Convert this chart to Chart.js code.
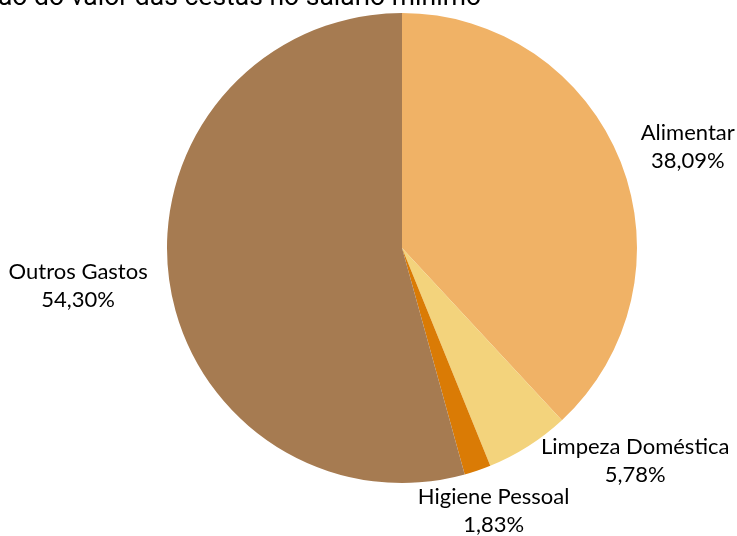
<!DOCTYPE html>
<html>
<head>
<meta charset="utf-8">
<script src="https://cdn.jsdelivr.net/npm/chart.js@4/dist/chart.umd.min.js"></script>
<style>
html,body{margin:0;padding:0;background:#fff;}
#wrap{width:737px;height:536px;position:relative;}
</style>
</head>
<body>
<div id="wrap"><canvas id="c" width="737" height="536"></canvas></div>
<script>
const categories = ['Alimentar', 'Limpeza Doméstica', 'Higiene Pessoal', 'Outros Gastos'];
const values = [38.09, 5.78, 1.83, 54.30];
const valueLabels = ['38,09%', '5,78%', '1,83%', '54,30%'];
const colors = ['#F0B266', '#F3D37C', '#DA7B05', '#A67B51'];
const titleText = 'Participação do valor das cestas no salário mínimo';

// label block offsets from the slice's outer edge at its mid angle
const labelOffsets = [[67, -15], [107, 15], [16, 40], [-91, 6]];

const labelPlugin = {
  id: 'sliceLabels',
  afterDatasetsDraw(chart) {
    const ctx = chart.ctx;
    const meta = chart.getDatasetMeta(0);
    ctx.save();
    ctx.font = '22px Lato, "Open Sans", sans-serif';
    ctx.fillStyle = '#000';
    ctx.textAlign = 'center';
    ctx.textBaseline = 'middle';
    meta.data.forEach((arc, i) => {
      const p = arc.getProps(['x','y','startAngle','endAngle','outerRadius'], true);
      const mid = (p.startAngle + p.endAngle) / 2;
      const ex = p.x + Math.cos(mid) * p.outerRadius;
      const ey = p.y + Math.sin(mid) * p.outerRadius;
      const cx = ex + labelOffsets[i][0];
      const cy = ey + labelOffsets[i][1];
      ctx.fillText(categories[i], cx, cy - 14);
      ctx.fillText(valueLabels[i], cx, cy + 14);
    });
    ctx.restore();
  }
};

const titlePlugin = {
  id: 'clippedTitle',
  afterDraw(chart) {
    const ctx = chart.ctx;
    ctx.save();
    ctx.font = '26.5px Roboto, sans-serif';
    ctx.fillStyle = '#000';
    ctx.textAlign = 'right';
    ctx.textBaseline = 'alphabetic';
    ctx.fillText(titleText, 481, 5);
    ctx.restore();
  }
};

new Chart(document.getElementById('c'), {
  type: 'pie',
  data: {
    labels: categories,
    datasets: [{
      data: values,
      backgroundColor: colors,
      borderWidth: 0
    }]
  },
  options: {
    responsive: false,
    animation: false,
    layout: { padding: { top: 13, bottom: 53, left: 167, right: 100 } },
    plugins: {
      legend: { display: false },
      title: { display: false },
      tooltip: { enabled: false }
    }
  },
  plugins: [labelPlugin, titlePlugin]
});
</script>
</body>
</html>
